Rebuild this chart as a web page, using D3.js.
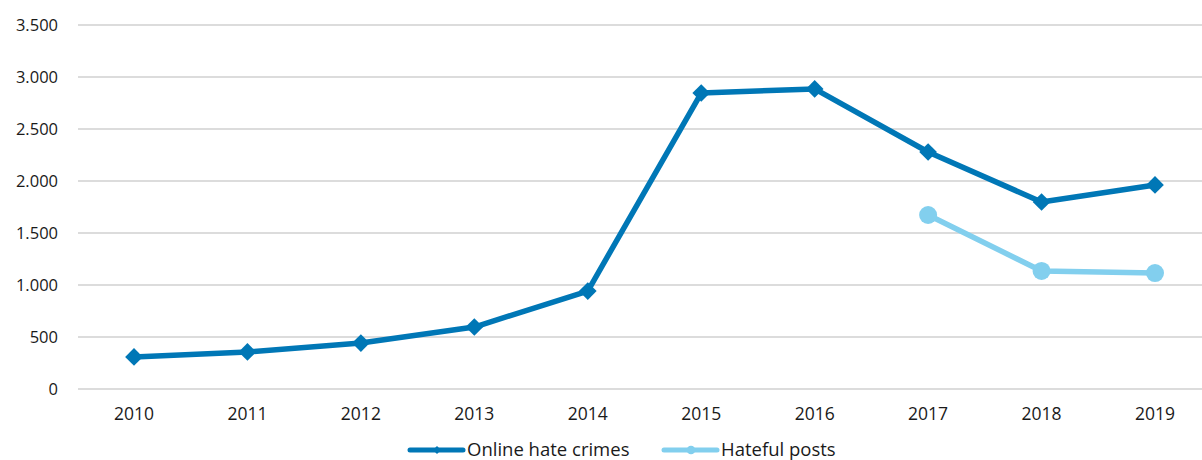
<!DOCTYPE html>
<html>
<head>
<meta charset="utf-8">
<script src="https://cdn.jsdelivr.net/npm/d3@7"></script>
<style>
  body { margin: 0; background: #fff; }
  svg text { font-family: "Open Sans", "Noto Sans", sans-serif; fill: #1a1a1a; }
</style>
</head>
<body>
<svg id="chart" width="1202" height="460"></svg>
<script>
var years = ['2010', '2011', '2012', '2013', '2014', '2015', '2016', '2017', '2018', '2019']
var hateCrimes = [308, 356, 442, 596, 942, 2846, 2885, 2279, 1798, 1962]
var hatefulPosts = [null, null, null, null, null, null, null, 1673, 1135, 1115]
var yTicks = [0, 500, 1000, 1500, 2000, 2500, 3000, 3500]

var darkBlue = '#0077b6'
var lightBlue = '#82cfee'

var svg = d3.select('#chart')

var x = d3.scalePoint()
  .domain(years)
  .range([134, 1155])

var y = d3.scaleLinear()
  .domain([0, 3500])
  .range([389, 25])

var fmt = function (d) { return d3.format(',')(d).replace(/,/g, '.') }

// gridlines
svg.append('g')
  .selectAll('line')
  .data(yTicks)
  .enter().append('line')
    .attr('x1', 78)
    .attr('x2', 1212)
    .attr('y1', function (d) { return y(d) })
    .attr('y2', function (d) { return y(d) })
    .attr('stroke', '#dcdcdc')
    .attr('stroke-width', 2)

// y axis labels
svg.append('g')
  .selectAll('text')
  .data(yTicks)
  .enter().append('text')
    .attr('x', 58)
    .attr('y', function (d) { return y(d) })
    .attr('dy', '0.35em')
    .attr('text-anchor', 'end')
    .attr('font-size', 16.5)
    .text(fmt)

// x axis labels
svg.append('g')
  .selectAll('text')
  .data(years)
  .enter().append('text')
    .attr('x', function (d) { return x(d) })
    .attr('y', 420)
    .attr('text-anchor', 'middle')
    .attr('font-size', 17.5)
    .text(function (d) { return d })

var line = d3.line()
  .defined(function (d) { return d.v != null })
  .x(function (d) { return x(d.year) })
  .y(function (d) { return y(d.v) })

function rows (values) {
  return years.map(function (yr, i) { return { year: yr, v: values[i] } })
}

var crimes = rows(hateCrimes)
var posts = rows(hatefulPosts)

svg.append('path')
  .datum(crimes)
  .attr('d', line)
  .attr('fill', 'none')
  .attr('stroke', darkBlue)
  .attr('stroke-width', 5.5)
  .attr('stroke-linejoin', 'round')

svg.append('g')
  .selectAll('path')
  .data(crimes)
  .enter().append('path')
    .attr('d', d3.symbol().type(d3.symbolDiamond2).size(200))
    .attr('transform', function (d) { return 'translate(' + x(d.year) + ',' + y(d.v) + ')' })
    .attr('fill', darkBlue)

svg.append('path')
  .datum(posts)
  .attr('d', line)
  .attr('fill', 'none')
  .attr('stroke', lightBlue)
  .attr('stroke-width', 5.5)
  .attr('stroke-linejoin', 'round')

svg.append('g')
  .selectAll('circle')
  .data(posts.filter(function (d) { return d.v != null }))
  .enter().append('circle')
    .attr('cx', function (d) { return x(d.year) })
    .attr('cy', function (d) { return y(d.v) })
    .attr('r', 9)
    .attr('fill', lightBlue)

// legend
var legendItems = [
  { label: 'Online hate crimes', color: darkBlue, x: 410, marker: 'diamond' },
  { label: 'Hateful posts', color: lightBlue, x: 664, marker: 'circle' }
]
var lg = svg.append('g')
  .selectAll('g')
  .data(legendItems)
  .enter().append('g')
    .attr('transform', function (d) { return 'translate(' + d.x + ',450)' })

lg.append('line')
  .attr('x1', 0)
  .attr('x2', 53)
  .attr('stroke', function (d) { return d.color })
  .attr('stroke-width', 5)
  .attr('stroke-linecap', 'round')

lg.append('path')
  .attr('d', function (d) {
    return d.marker === 'diamond'
      ? d3.symbol().type(d3.symbolDiamond2).size(40)()
      : d3.symbol().type(d3.symbolCircle).size(60)()
  })
  .attr('transform', 'translate(27,0)')
  .attr('fill', function (d) { return d.color })

lg.append('text')
  .attr('x', 57)
  .attr('dy', '0.35em')
  .attr('font-size', 18.5)
  .text(function (d) { return d.label })
</script>
</body>
</html>
